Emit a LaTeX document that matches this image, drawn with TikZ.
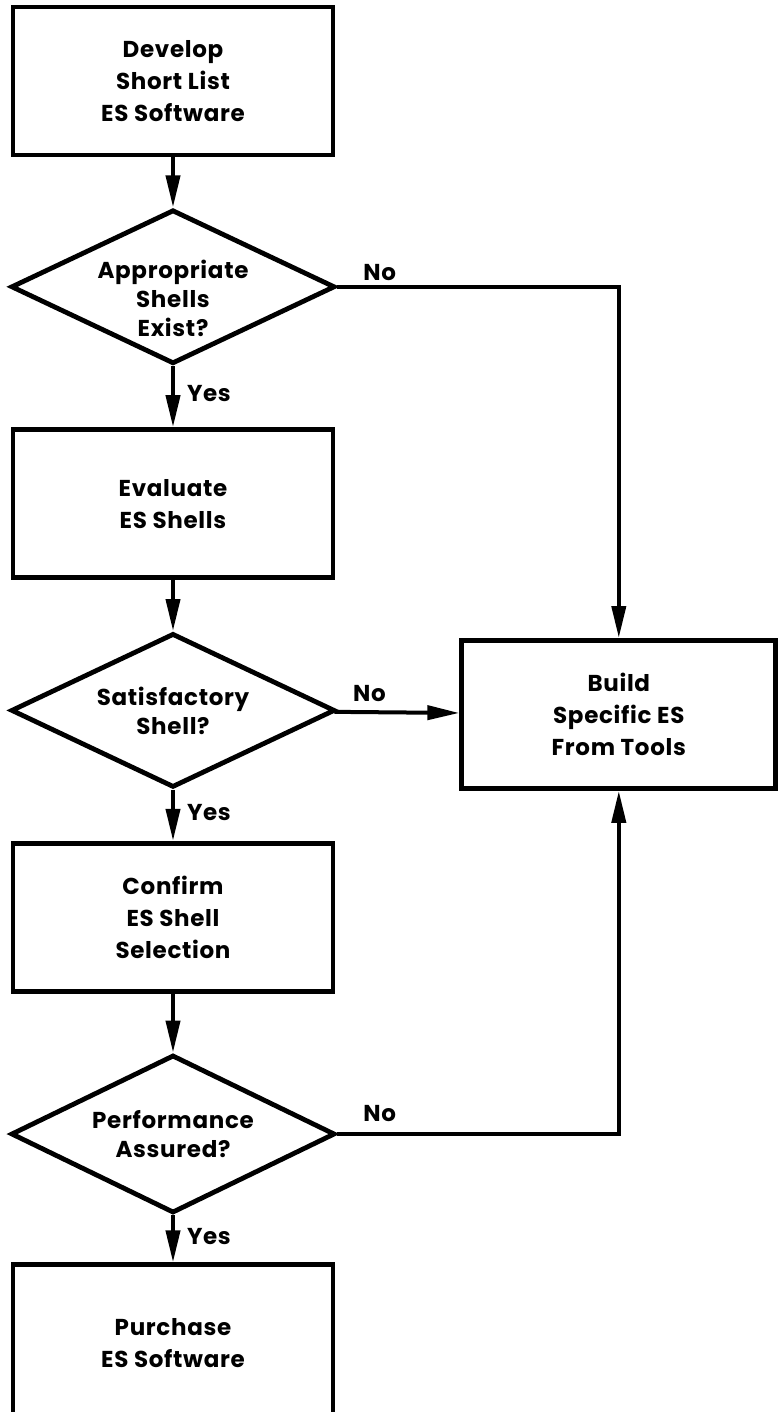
\documentclass[tikz,border=0pt]{standalone}
\usepackage{fontspec}
\setmainfont{Poppins}[LetterSpace=3]
\usetikzlibrary{shapes.geometric, positioning, arrows.meta}

\newcommand{\boxfont}{\fontsize{11.5}{16}\selectfont\bfseries}
\newcommand{\askfont}{\fontsize{11.5}{14.5}\selectfont\bfseries}

\tikzset{
    process/.style={
        rectangle, draw=black, line width=2.4pt, minimum width=160pt, minimum height=74pt, align=center, font=\boxfont
    },
    decision/.style={
        diamond, draw=black, line width=2.4pt, minimum width=162pt, minimum height=77pt, inner sep=0pt
    },
    asktext/.style={
        align=center, font=\askfont, inner sep=0pt
    },
    answer/.style={
        font=\boxfont, inner sep=1pt
    },
    arrow/.style={
        line width=2pt, -{Triangle[length=16pt, width=7pt]}
    }
}

\begin{document}
\begin{tikzpicture}[x=0.5pt, y=-0.5pt]
    \useasboundingbox (0,0) rectangle (777,1412);

    % Main column
    \node[process] (develop) at (173,81) {Develop\\Short List\\ES Software};
    \node[decision, below=25pt of develop,
        label={[asktext, yshift=-6pt]center:{Appropriate\\Shells\\Exist?}}] (exist) {};
    \node[process, below=30.5pt of exist] (evaluate) {Evaluate\\ES Shells};
    \node[decision, below=25.5pt of evaluate,
        label={[asktext]center:{Satisfactory\\Shell?}}] (satisfy) {};
    \node[process, below=25.5pt of satisfy] (confirm) {Confirm\\ES Shell\\Selection};
    \node[decision, minimum height=79pt, below=29.5pt of confirm,
        label={[asktext]center:{Performance\\Assured?}}] (perform) {};
    \node[process, minimum height=78pt, below=23.5pt of perform] (purchase) {Purchase\\ES Software};

    % Side branch
    \node[process, minimum width=157pt, right=61pt of satisfy, yshift=-2pt] (build) {Build\\Specific ES\\From Tools};

    % Yes paths
    \draw[arrow] (develop) -- (exist);
    \draw[arrow] (exist) -- node[answer, right=5pt, pos=0.45] {Yes} (evaluate);
    \draw[arrow] (evaluate) -- (satisfy);
    \draw[arrow] (satisfy) -- node[answer, right=5pt, pos=0.45] {Yes} (confirm);
    \draw[arrow] (confirm) -- (perform);
    \draw[arrow] (perform) -- node[answer, right=5pt, pos=0.45] {Yes} (purchase);

    % No paths
    \draw[arrow] (exist) -- node[answer, above=1pt, pos=0.15] {No} (exist -| build) -- (build);
    \draw[arrow] (satisfy) -- node[answer, above=3pt, pos=0.28] {No} (build);
    \draw[arrow] (perform) -- node[answer, above=4pt, pos=0.15] {No} (perform -| build) -- (build);

\end{tikzpicture}
\end{document}
